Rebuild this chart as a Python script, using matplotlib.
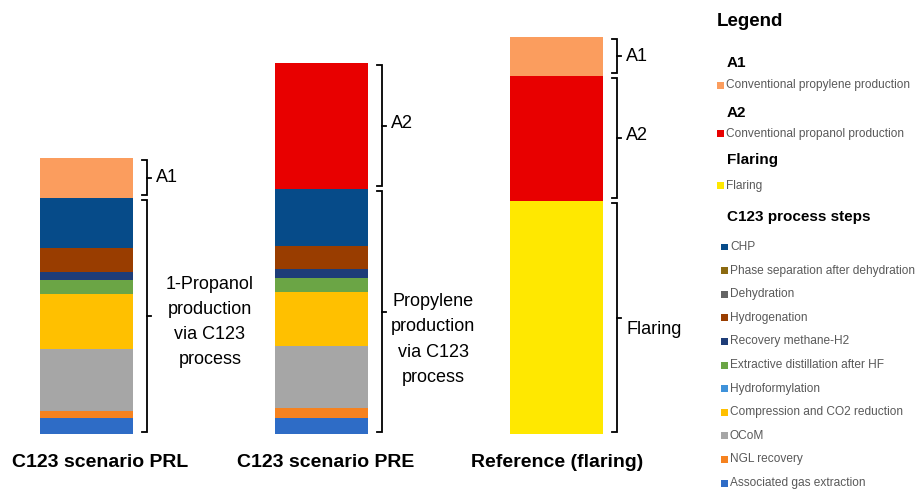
import numpy as np
import matplotlib
matplotlib.use("Agg")
import matplotlib.pyplot as plt
from matplotlib.patches import Rectangle

plt.rcParams['font.family'] = ['Liberation Sans', 'DejaVu Sans']

W, H = 915, 490

# scenarios and stacked contributions (arbitrary units, bottom -> top)
scenarios = ["C123 scenario PRL", "C123 scenario PRE", "Reference (flaring)"]

series_names = [
    "Associated gas extraction", "NGL recovery", "OCoM",
    "Compression and CO2 reduction", "Hydroformylation",
    "Extractive distillation after HF", "Recovery methane-H2",
    "Hydrogenation", "Dehydration", "Phase separation after dehydration",
    "CHP", "Flaring", "Conventional propanol production",
    "Conventional propylene production",
]
series_colors = [
    "#2E6CC6", "#F6821F", "#A6A6A6", "#FFC000", "#3F92DA", "#6BA545",
    "#1E3D78", "#993D00", "#646464", "#8C6A10", "#064B89", "#FFE800",
    "#E80000", "#FB9D5E",
]
series_group = ["process"] * 11 + ["Flaring", "A2", "A1"]

assoc_gas = [16, 16, 0]
ngl_recovery = [7, 10, 0]
ocom = [62, 62, 0]
compression = [55, 54, 0]
hydroformylation = [0, 0, 0]
extractive_dist = [14, 14, 0]
recovery_h2 = [8, 9, 0]
hydrogenation = [24, 23, 0]
dehydration = [0, 0, 0]
phase_separation = [0, 0, 0]
chp = [50, 57, 0]
flaring = [0, 0, 233]
conv_propanol = [0, 126, 125]
conv_propylene = [40, 0, 39]

values = np.array([
    assoc_gas, ngl_recovery, ocom, compression, hydroformylation,
    extractive_dist, recovery_h2, hydrogenation, dehydration,
    phase_separation, chp, flaring, conv_propanol, conv_propylene,
], dtype=float)

bracket_labels = [
    {"A1": "A1", "process": "1-Propanol\nproduction\nvia C123\nprocess"},
    {"A2": "A2", "process": "Propylene\nproduction\nvia C123\nprocess"},
    {"A1": "A1", "A2": "A2", "Flaring": "Flaring"},
]
# small nudges of the bracket labels (px): (right, down)
label_nudge = [
    {"A1": (0, 0), "process": (10, 6)},
    {"A2": (0, -2), "process": (0, 28)},
    {"A1": (0, 0), "A2": (0, -3), "Flaring": (0, 12)},
]
# horizontal nudge of the category labels (px)
xlabel_nudge = [14, 4, 1]

# legend layout: (kind, text, color, y px)
legend_rows = [
    ("head", "A1", None, 63),
    ("item", "Conventional propylene production", "#FB9D5E", 85),
    ("head", "A2", None, 113),
    ("item", "Conventional propanol production", "#E80000", 134),
    ("head", "Flaring", None, 160),
    ("item", "Flaring", "#FFE800", 186),
    ("head", "C123 process steps", None, 217),
]
process_legend = [
    "CHP", "Phase separation after dehydration", "Dehydration",
    "Hydrogenation", "Recovery methane-H2", "Extractive distillation after HF",
    "Hydroformylation", "Compression and CO2 reduction", "OCoM",
    "NGL recovery", "Associated gas extraction",
]

fig = plt.figure(figsize=(W / 100, H / 100), dpi=100)

# axes: category spacing 235 px, 1 value unit = 1 px
px_per_cat = 235.0
x_left = 86.5 - 0.3 * px_per_cat
ax_w = 3.0 * px_per_cat
ax_bottom = 434.0
ax_h = 420.0
ax = fig.add_axes([x_left / W, (H - ax_bottom) / H, ax_w / W, ax_h / H])
ax.set_xlim(-0.3, 2.7)
ax.set_ylim(0, ax_h)

xpos = np.arange(len(scenarios))
bar_w = 93.0 / px_per_cat
bottoms = np.zeros(len(scenarios))
for name, col, vals in zip(series_names, series_colors, values):
    ax.bar(xpos, vals, bar_w, bottom=bottoms, color=col, linewidth=0)
    bottoms += vals

# brackets at the right of each bar
dx = 1.0 / px_per_cat
for i in range(len(scenarios)):
    cum = np.concatenate([[0], np.cumsum(values[:, i])])
    for grp in bracket_labels[i]:
        idx = [k for k, g in enumerate(series_group) if g == grp]
        lo = cum[idx[0]]
        hi = cum[idx[-1] + 1]
        if hi - lo <= 0:
            continue
        y0, y1 = lo + 2.5, hi - 2.5
        xv = i + bar_w / 2 + 14 * dx
        xh = xv - 5 * dx
        xt = xv + 4 * dx
        ym = (y0 + y1) / 2
        ax.plot([xh, xv, xv, xh], [y1, y1, y0, y0], color="black", lw=1.3,
                solid_joinstyle="miter")
        ax.plot([xv, xt], [ym, ym], color="black", lw=1.3)
        nx, ny = label_nudge[i][grp]
        ax.text(xt + (5 + nx) * dx, ym - ny, bracket_labels[i][grp],
                ha="left", va="center", multialignment="center",
                fontsize=13, linespacing=1.62)

for i, lab in enumerate(scenarios):
    ax.text(xpos[i] + xlabel_nudge[i] * dx, -28, lab, ha="center",
            va="center", fontsize=14, fontweight="bold", clip_on=False)
ax.set_xticks([])
ax.set_yticks([])
for s in ax.spines.values():
    s.set_visible(False)

# legend panel
def fx(x):
    return x / W

def fy(y):
    return 1 - y / H

fig.text(fx(717), fy(22), "Legend", fontsize=13.5, fontweight="bold",
         va="center", ha="left")

def legend_item(y, text, color, mx):
    fig.patches.append(Rectangle((fx(mx), fy(y + 3.5)), 7 / W, 7 / H,
                                 transform=fig.transFigure, color=color,
                                 linewidth=0))
    fig.text(fx(mx + 9), fy(y), text, fontsize=8.6, color="#595959",
             va="center", ha="left")

for kind, text, col, y in legend_rows:
    if kind == "head":
        fig.text(fx(727), fy(y), text, fontsize=11, fontweight="bold",
                 va="center", ha="left")
    else:
        legend_item(y, text, col, 717)

for j, name in enumerate(process_legend):
    col = series_colors[series_names.index(name)]
    legend_item(247 + 23.6 * j, name, col, 721)

fig.savefig("out.png", dpi=100)
